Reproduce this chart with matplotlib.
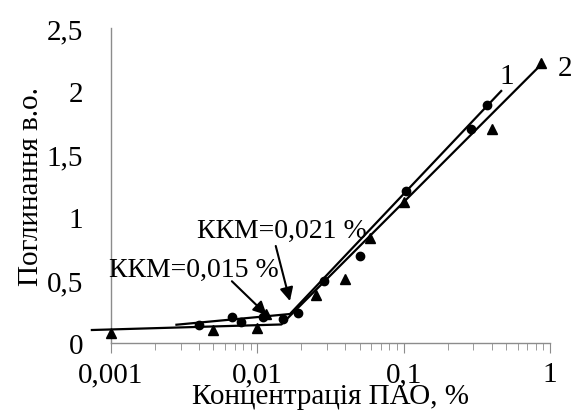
import matplotlib
matplotlib.use("Agg")
import matplotlib.pyplot as plt
from matplotlib.ticker import FixedLocator, LogLocator, NullFormatter

plt.rcParams["font.family"] = ["Liberation Serif", "DejaVu Serif"]

# series 1 (circles)
x1 = [0.004, 0.0067, 0.0077, 0.011, 0.015, 0.019, 0.0285, 0.05, 0.104, 0.29, 0.37]
y1 = [0.14, 0.21, 0.17, 0.21, 0.19, 0.235, 0.49, 0.69, 1.21, 1.70, 1.89]
# series 2 (triangles)
x2 = [0.001, 0.005, 0.01, 0.0115, 0.025, 0.0395, 0.0586, 0.1, 0.4, 0.87]
y2 = [0.08, 0.10, 0.12, 0.23, 0.38, 0.51, 0.83, 1.12, 1.70, 2.22]

# fitted broken lines
fit1_x = [0.0028, 0.0167, 0.464]
fit1_y = [0.145, 0.23, 2.0]
fit2_x = [0.00074, 0.0146, 0.87]
fit2_y = [0.103, 0.147, 2.21]

xticks = [0.001, 0.01, 0.1, 1]
xtick_labels = ["0,001", "0,01", "0,1", "1"]
yticks = [0, 0.5, 1, 1.5, 2, 2.5]
ytick_labels = ["0", "0,5", "1", "1,5", "2", "2,5"]

fig = plt.figure(figsize=(5.74, 4.14), dpi=100)
ax = fig.add_axes([0.1934, 0.1691, 0.7648, 0.7609])

ax.plot(fit1_x, fit1_y, color="black", lw=1.6, clip_on=False, zorder=2)
ax.plot(fit2_x, fit2_y, color="black", lw=1.6, clip_on=False, zorder=2)
ax.plot(x1, y1, "o", color="black", ms=6, clip_on=False, zorder=3)
ax.plot(x2, y2, "^", color="black", ms=7, clip_on=False, zorder=3)

ax.set_xscale("log")
ax.set_xlim(0.001, 1)
ax.set_ylim(0, 2.5)

ax.xaxis.set_major_locator(FixedLocator(xticks))
ax.set_xticklabels(xtick_labels)
ax.xaxis.set_minor_locator(LogLocator(base=10, subs=range(2, 10)))
ax.xaxis.set_minor_formatter(NullFormatter())
ax.set_yticks(yticks)
ax.set_yticklabels(ytick_labels)

for s in ["top", "right"]:
    ax.spines[s].set_visible(False)
for s in ["left", "bottom"]:
    ax.spines[s].set_color("#8c8c8c")
    ax.spines[s].set_linewidth(1.0)

ax.tick_params(axis="x", which="major", length=7, color="#8c8c8c", labelsize=21, pad=6)
ax.tick_params(axis="x", which="minor", length=5, color="#8c8c8c")
ax.tick_params(axis="y", length=0, labelsize=21, pad=20)

ax.set_xlabel("Концентрація ПАО, %", fontsize=21, labelpad=-3)
ax.set_ylabel("Поглинання в.о.", fontsize=21, labelpad=2)

# arrows to the break points
ax.annotate("", xy=(0.0167, 0.333), xytext=(0.01336, 0.77),
            arrowprops=dict(arrowstyle="-|>", color="black", lw=1.5,
                            mutation_scale=20, shrinkA=0, shrinkB=0))
ax.annotate("", xy=(0.0116, 0.222), xytext=(0.0067, 0.49),
            arrowprops=dict(arrowstyle="-|>", color="black", lw=1.5,
                            mutation_scale=20, shrinkA=0, shrinkB=0))
ax.text(0.0146, 0.89, "ККМ=0,021 %", fontsize=20, ha="center", va="center")
ax.text(0.0037, 0.587, "ККМ=0,015 %", fontsize=20, ha="center", va="center")

ax.text(0.51, 2.12, "1", fontsize=21, ha="center", va="center")
ax.text(1.26, 2.18, "2", fontsize=21, ha="center", va="center", clip_on=False)

fig.savefig("out.png", dpi=100)
